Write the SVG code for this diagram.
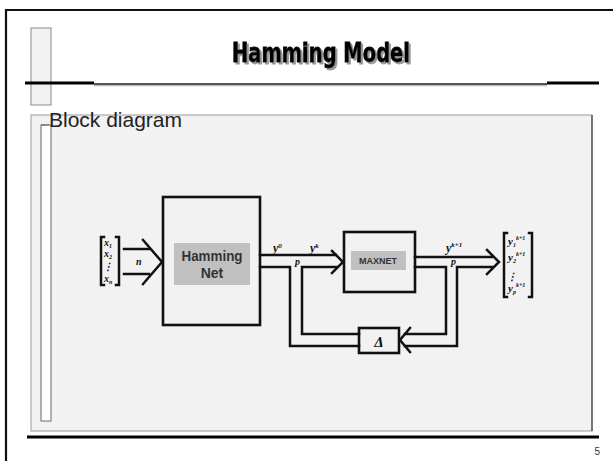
<svg xmlns="http://www.w3.org/2000/svg" width="613" height="461" viewBox="0 0 613 461">
<defs>
<style>
.ink{fill:none;stroke:#111;stroke-width:2.5;stroke-linejoin:miter;stroke-linecap:square}
.box{fill:none;stroke:#111;stroke-width:2.6}
.lbl{fill:#c0c0c0}
.lt{font-family:"Liberation Sans",Arial,sans-serif;font-weight:bold;fill:#333;text-anchor:middle}
.sc{font-family:"Liberation Serif","Times New Roman",serif;font-weight:bold;font-style:italic;fill:#111}
</style>
<filter id="shadow" x="-10%" y="-30%" width="120%" height="160%">
  <feDropShadow dx="2" dy="2" stdDeviation="0.3" flood-color="#999999" flood-opacity="1"/>
</filter>
</defs>
<rect width="613" height="461" fill="#ffffff"/>
<!-- slide frame -->
<path d="M6,461 V10 H613" fill="none" stroke="#111" stroke-width="2.2"/>
<rect x="31" y="28" width="20" height="77" fill="#f2f2f2" stroke="#8a8a8a" stroke-width="1"/>
<!-- title -->
<text x="321" y="62" font-family="'DejaVu Sans Condensed','DejaVu Sans',sans-serif" font-weight="bold" font-size="27" text-anchor="middle" fill="#000" stroke="#000" stroke-width="0.8" textLength="178" lengthAdjust="spacingAndGlyphs" filter="url(#shadow)">Hamming Model</text>
<!-- header rule -->
<line x1="94" y1="85.5" x2="547" y2="85.5" stroke="#bbbbbb" stroke-width="1.5"/>
<line x1="94" y1="84" x2="547" y2="84" stroke="#222" stroke-width="1.6"/>
<line x1="25" y1="83" x2="94" y2="83" stroke="#000" stroke-width="3"/>
<line x1="547" y1="83" x2="599" y2="83" stroke="#000" stroke-width="3"/>
<!-- content panel -->
<rect x="31" y="115" width="561" height="316" fill="#f2f2f2" stroke="#999" stroke-width="1"/>
<line x1="592" y1="115" x2="592" y2="431" stroke="#222" stroke-width="1"/>
<rect x="41" y="125" width="10" height="296" fill="#ffffff" stroke="#666" stroke-width="1"/>
<line x1="41" y1="125" x2="49" y2="125" stroke="#666" stroke-width="1"/>
<text x="49" y="127" font-family="'Liberation Sans',Arial,sans-serif" font-size="21" fill="#222" textLength="133" lengthAdjust="spacingAndGlyphs">Block diagram</text>
<!-- footer -->
<line x1="27" y1="437" x2="599" y2="437" stroke="#000" stroke-width="3.2"/>
<text x="600" y="455" font-family="'Liberation Sans',Arial,sans-serif" font-size="10" fill="#333" text-anchor="end">5</text>

<!-- connectors -->
<g id="connectors">
  <path class="ink" d="M124,249 H149"/>
  <path class="ink" d="M124,274 H149"/>
  <path class="ink" d="M143,240 L162,262 L143,284"/>
  <path class="ink" d="M260,255 H336"/>
  <path class="ink" d="M332,251 L343,262 L332,273"/>
  <path class="ink" d="M260,267 H290 V346 H359"/>
  <path class="ink" d="M336,267 H302 V334 H359"/>
  <path class="ink" d="M415,257 H492"/>
  <path class="ink" d="M487,250 L499,262 L487,274"/>
  <path class="ink" d="M415,267 H446 V334 H405"/>
  <path class="ink" d="M492,267 H457 V346 H405"/>
  <path class="ink" d="M410,328 L400,340 L410,352"/>
  <text class="sc" x="136" y="265" font-size="10">n</text>
  <text class="sc" x="273" y="252" font-size="12">y<tspan dy="-4" font-size="7">0</tspan></text>
  <text class="sc" x="310" y="252" font-size="12">y<tspan dy="-4" font-size="7">k</tspan></text>
  <text class="sc" x="295" y="265" font-size="10">p</text>
  <text class="sc" x="446" y="252" font-size="12">y<tspan dy="-5" font-size="7">k+1</tspan></text>
  <text class="sc" x="451" y="265" font-size="10">p</text>
</g>

<g id="input-vector">
  <path class="ink" d="M104,237 H101 V285 H104" stroke-width="2"/>
  <path class="ink" d="M116,237 H119 V285 H116" stroke-width="2"/>
  <text class="sc" x="104" y="246" font-size="10">x<tspan dy="2" font-size="6">1</tspan></text>
  <text class="sc" x="104" y="257" font-size="10">x<tspan dy="2" font-size="6">2</tspan></text>
  <text class="sc" x="108" y="270" font-size="10" text-anchor="middle">⋮</text>
  <text class="sc" x="104" y="282" font-size="10">x<tspan dy="2" font-size="6">n</tspan></text>
</g>

<g id="hamming-net">
  <rect class="box" x="163" y="197" width="97" height="128"/>
  <rect class="lbl" x="174" y="243" width="76" height="42"/>
  <text class="lt" x="212" y="261" font-size="14" textLength="61" lengthAdjust="spacingAndGlyphs">Hamming</text>
  <text class="lt" x="212" y="278" font-size="14">Net</text>
</g>

<g id="maxnet">
  <rect class="box" x="344" y="232" width="71" height="60"/>
  <rect class="lbl" x="351" y="251" width="55" height="19"/>
  <text class="lt" x="378" y="264" font-size="9">MAXNET</text>
</g>

<g id="delta">
  <rect class="box" x="359" y="328" width="40" height="25"/>
  <text class="sc" x="379" y="347" font-size="15" text-anchor="middle">Δ</text>
</g>

<g id="output-vector">
  <path class="ink" d="M507,233 H504 V297 H507" stroke-width="2"/>
  <path class="ink" d="M529,233 H532 V297 H529" stroke-width="2"/>
  <text class="sc" x="508" y="245" font-size="11">y<tspan dy="2" font-size="6">1</tspan><tspan dy="-7" font-size="6">k+1</tspan></text>
  <text class="sc" x="508" y="261" font-size="11">y<tspan dy="2" font-size="6">2</tspan><tspan dy="-7" font-size="6">k+1</tspan></text>
  <text class="sc" x="512" y="280" font-size="10" text-anchor="middle">⋮</text>
  <text class="sc" x="508" y="292" font-size="11">y<tspan dy="2" font-size="6">p</tspan><tspan dy="-7" font-size="6">k+1</tspan></text>
</g>
</svg>
